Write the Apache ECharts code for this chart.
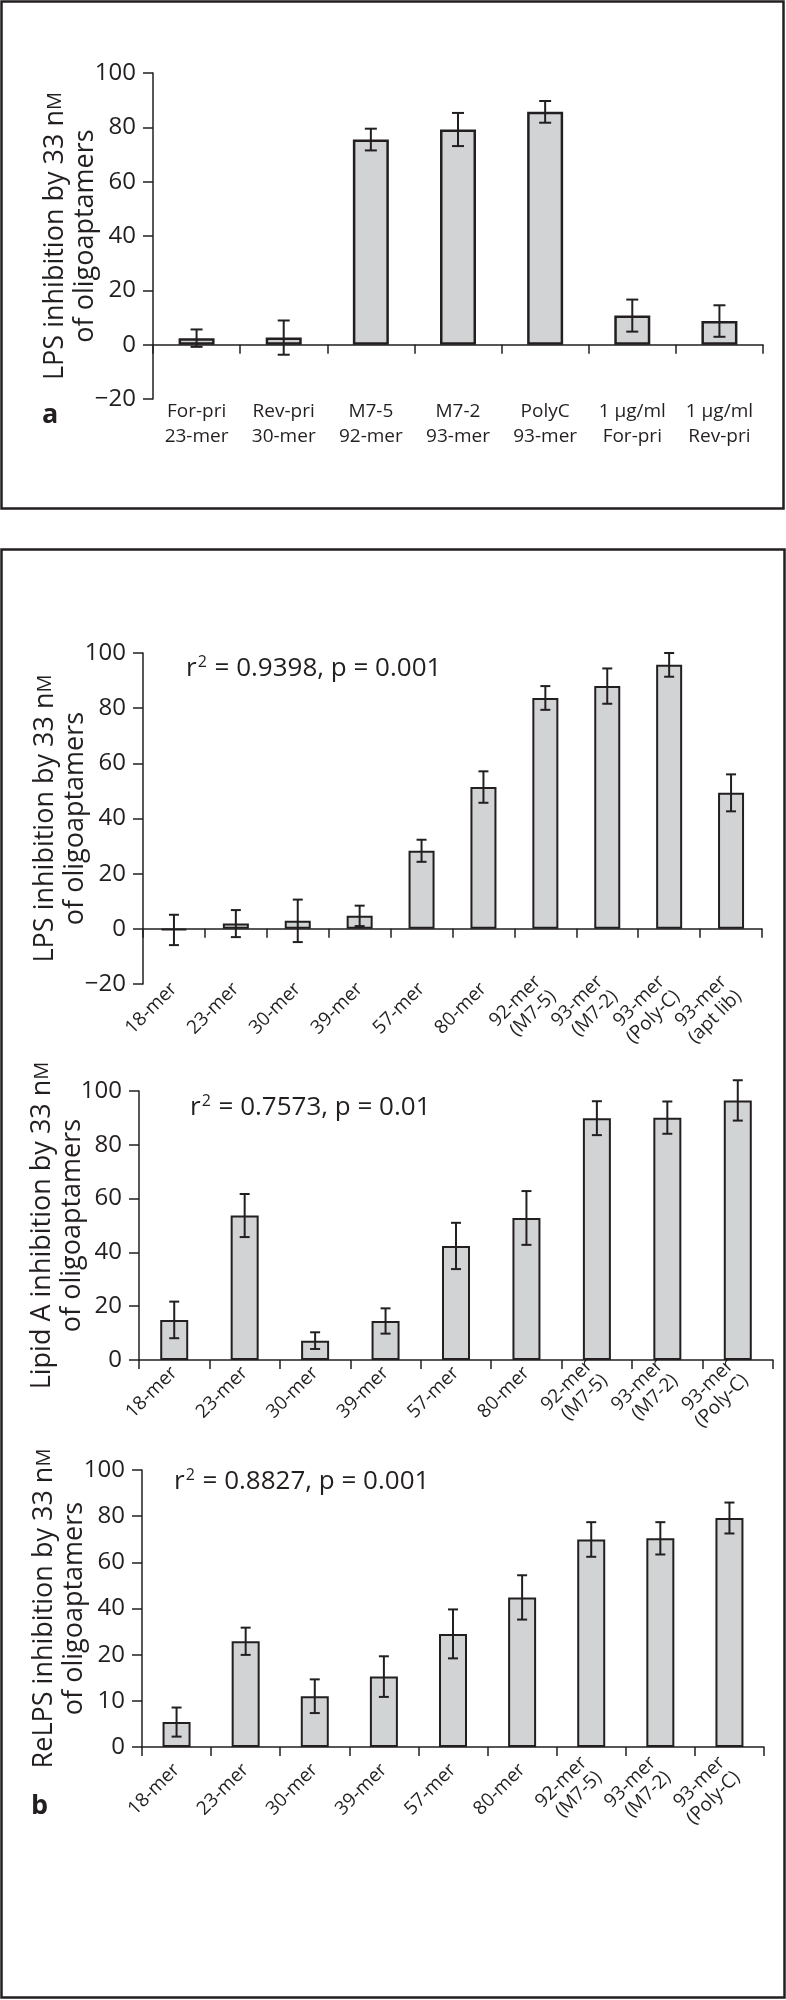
<!DOCTYPE html>
<html><head><meta charset="utf-8">
<script src="https://cdn.jsdelivr.net/npm/echarts@6/dist/echarts.min.js"></script>
<style>html,body{margin:0;padding:0;background:#fff}#c{width:786px;height:2000px}</style>
</head><body><div id="c"></div>
<script>
// ---------- Panel a ----------
const catsA = ['For-pri\n23-mer', 'Rev-pri\n30-mer', 'M7-5\n92-mer', 'M7-2\n93-mer', 'PolyC\n93-mer', '1 µg/ml\nFor-pri', '1 µg/ml\nRev-pri'];
const valsA = [2.4, 2.6, 75.5, 79.2, 85.7, 10.7, 8.7];
const errA  = [3.2, 6.3, 4.0, 6.1, 4.0, 5.9, 5.8];

// ---------- Panel b, LPS ----------
const catsB1 = ['18-mer', '23-mer', '30-mer', '39-mer', '57-mer', '80-mer', '92-mer\n(M7-5)', '93-mer\n(M7-2)', '93-mer\n(Poly-C)', '93-mer\n(apt lib)'];
const valsB1 = [-0.4, 1.9, 2.9, 4.7, 28.3, 51.4, 83.7, 88.0, 95.7, 49.3];
const errB1  = [5.5, 4.9, 7.7, 3.7, 4.0, 5.7, 4.3, 6.4, 4.3, 6.7];

// ---------- Panel b, Lipid A ----------
const catsB2 = ['18-mer', '23-mer', '30-mer', '39-mer', '57-mer', '80-mer', '92-mer\n(M7-5)', '93-mer\n(M7-2)', '93-mer\n(Poly-C)'];
const valsB2 = [14.9, 53.7, 7.2, 14.5, 42.4, 52.8, 89.9, 90.1, 96.5];
const errB2  = [6.8, 8.0, 3.1, 4.7, 8.6, 10.0, 6.3, 6.0, 7.5];

// ---------- Panel b, ReLPS ----------
// The printed tick labels are evenly spaced (0,10,20,40,60,80,100); values are in
// evenly spaced axis units where one tick step = 20.
const catsB3 = ['18-mer', '23-mer', '30-mer', '39-mer', '57-mer', '80-mer', '92-mer\n(M7-5)', '93-mer\n(M7-2)', '93-mer\n(Poly-C)'];
const tickLabelsB3 = ['0', '10', '20', '40', '60', '80', '100'];
const valsB3 = [10.8, 45.8, 22.0, 30.5, 49.0, 64.8, 89.9, 90.4, 99.2];
const errB3  = [6.3, 5.9, 7.3, 8.8, 10.6, 9.6, 7.5, 7.0, 6.7];

const INK = '#231f20';
const FILL = '#d1d3d4';
const FONT = 'Open Sans';

const chart = echarts.init(document.getElementById('c'), null, {renderer: 'canvas'});

function errRender(capHalf) {
  return function (params, api) {
    const i = api.value(0), v = api.value(1), e = api.value(2);
    const t = api.coord([i, v + e]);
    const b = api.coord([i, v - e]);
    const st = {stroke: INK, lineWidth: 2};
    return {type: 'group', children: [
      {type: 'line', shape: {x1: t[0], y1: t[1], x2: b[0], y2: b[1]}, style: st},
      {type: 'line', shape: {x1: t[0] - capHalf, y1: t[1], x2: t[0] + capHalf, y2: t[1]}, style: st},
      {type: 'line', shape: {x1: b[0] - capHalf, y1: b[1], x2: b[0] + capHalf, y2: b[1]}, style: st}
    ]};
  };
}

function yName(l1) {
  return '{n|' + l1 + ' n}{m|M}\n{n|of oligoaptamers}';
}
const nameRich = {
  n: {fontSize: 27, fontFamily: FONT, color: INK, lineHeight: 30},
  m: {fontSize: 20, fontFamily: FONT, color: INK, lineHeight: 30}
};

const grids = [
  {left: 153, right: 23, top: 73, bottom: 2000 - 399, outerBoundsMode: 'none'},
  {left: 143, right: 24, top: 653, bottom: 2000 - 984, outerBoundsMode: 'none'},
  {left: 139, right: 13, top: 1091, bottom: 2000 - 1360, outerBoundsMode: 'none'},
  {left: 142, right: 22, top: 1470, bottom: 2000 - 1747, outerBoundsMode: 'none'}
];

function mainX(g, cats, lw) {
  return {type: 'category', gridIndex: g, data: cats,
    axisLine: {onZero: true, lineStyle: {color: INK, width: lw}},
    axisTick: {show: true, length: 9, lineStyle: {color: INK, width: lw}},
    axisLabel: {show: false}, splitLine: {show: false}};
}
function labelX(g, cats, opts) {
  return {type: 'category', gridIndex: g, data: cats, position: 'bottom',
    axisLine: {show: false, onZero: false}, axisTick: {show: false},
    axisLabel: Object.assign({interval: 0, color: INK, fontFamily: FONT}, opts),
    splitLine: {show: false}};
}
function rotX(g, cats, margin, lw, showLine) {
  return {type: 'category', gridIndex: g, data: cats, position: 'bottom',
    axisLine: {show: showLine, onZero: false, lineStyle: {color: INK, width: lw}},
    axisTick: {show: showLine, length: 9, lineStyle: {color: INK, width: lw}},
    axisLabel: {interval: 0, rotate: 45, margin: margin, fontSize: 19, lineHeight: 21,
      color: INK, fontFamily: FONT},
    splitLine: {show: false}};
}
function minusFmt(v) { return String(v).replace('-', '\u2212'); }
function yAx(g, min, max, name, gap, fmt) {
  return {type: 'value', gridIndex: g, min: min, max: max, interval: 20,
    axisLine: {show: true, lineStyle: {color: INK, width: 1.5}},
    axisTick: {show: true, length: 10, lineStyle: {color: INK, width: 1.5}},
    axisLabel: {fontSize: 24, fontFamily: FONT, color: INK, margin: 17, formatter: fmt || minusFmt},
    splitLine: {show: false},
    name: name, nameLocation: 'middle', nameRotate: 90, nameGap: gap, nameMoveOverlap: false,
    nameTextStyle: {rich: nameRich, align: 'center'}};
}

const xAxes = [
  mainX(0, catsA, 1.5),                                        // 0
  labelX(0, catsA, {margin: 0, fontSize: 19, lineHeight: 25}), // 1
  mainX(1, catsB1, 1.5),                                       // 2
  rotX(1, catsB1, 2, 1.5, false),                              // 3
  rotX(2, catsB2, 10, 1.5, true),                              // 4
  rotX(3, catsB3, 20, 1.5, true)                               // 5
];
const yAxes = [
  yAx(0, -20, 100, yName('LPS inhibition by 33'), 53),
  yAx(1, -20, 100, yName('LPS inhibition by 33'), 53),
  yAx(2, 0, 100, yName('Lipid A inhibition by 33'), 52),
  yAx(3, 0, 120, yName('ReLPS inhibition by 33'), 53, v => tickLabelsB3[Math.round(v / 20)])
];

function barS(xi, yi, vals, w, bw) {
  return {type: 'bar', xAxisIndex: xi, yAxisIndex: yi, data: vals, barWidth: w,
    itemStyle: {color: FILL, borderColor: INK, borderWidth: bw}, silent: true, z: 2};
}
function errS(xi, yi, vals, errs, cap) {
  return {type: 'custom', xAxisIndex: xi, yAxisIndex: yi,
    data: vals.map((v, k) => [k, v, errs[k]]),
    encode: {x: 0, y: 1}, renderItem: errRender(cap), silent: true, z: 5};
}

function annot(x, y, rest) {
  return {type: 'text', left: x, top: y, z: 10,
    style: {text: '{r|r}{s|2}{t| = ' + rest + '}',
      rich: {
        r: {fontSize: 26, fontFamily: FONT, fill: INK, lineHeight: 30},
        s: {fontSize: 16, fontFamily: FONT, fill: INK, lineHeight: 30, verticalAlign: 'top', padding: [0, 1, 10, 1]},
        t: {fontSize: 26, fontFamily: FONT, fill: INK, lineHeight: 30}
      }}};
}

chart.setOption({
  animation: false,
  backgroundColor: '#fff',
  grid: grids,
  xAxis: xAxes,
  yAxis: yAxes,
  series: [
    barS(0, 0, valsA, 36, 2.5), errS(0, 0, valsA, errA, 6),
    barS(2, 1, valsB1, 26, 2), errS(2, 1, valsB1, errB1, 5),
    barS(4, 2, valsB2, 28, 2), errS(4, 2, valsB2, errB2, 5),
    barS(5, 3, valsB3, 28, 2), errS(5, 3, valsB3, errB3, 5)
  ],
  graphic: [
    {type: 'rect', shape: {x: 1.5, y: 1.5, width: 782, height: 507}, style: {fill: 'none', stroke: INK, lineWidth: 2.5}, z: 0},
    {type: 'rect', shape: {x: 1.5, y: 549.5, width: 783, height: 1448}, style: {fill: 'none', stroke: INK, lineWidth: 2.5}, z: 0},
    {type: 'text', left: 42, top: 402, style: {text: 'a', fontSize: 27, fontWeight: 'bold', fontFamily: FONT, fill: INK}},
    {type: 'text', left: 31, top: 1793, style: {text: 'b', fontSize: 27, fontWeight: 'bold', fontFamily: FONT, fill: INK}},
    annot(186, 654, '0.9398, p = 0.001'),
    annot(190, 1093, '0.7573, p = 0.01'),
    annot(174, 1467, '0.8827, p = 0.001')
  ]
});
</script>
</body></html>
